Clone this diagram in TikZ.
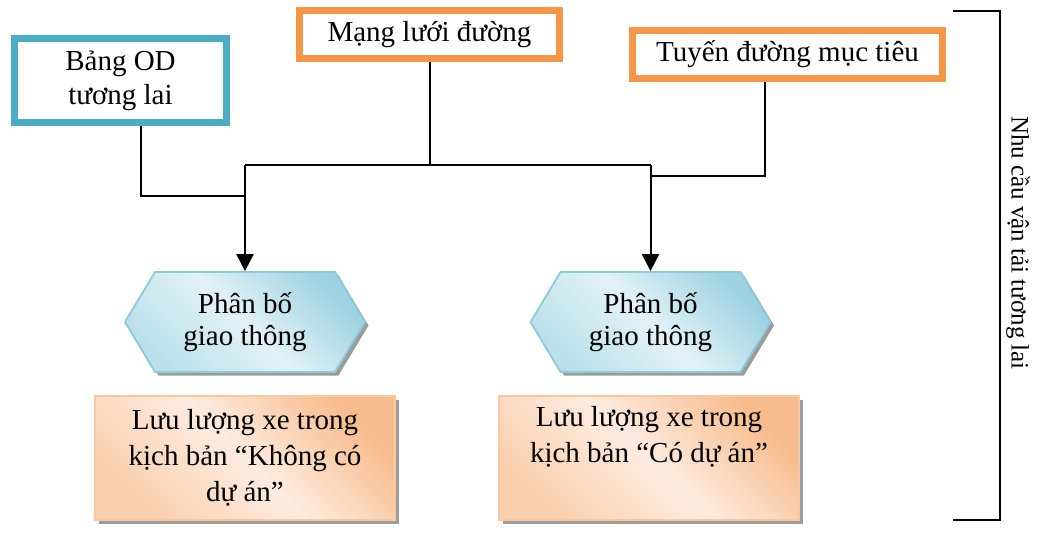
\documentclass[tikz,border=0pt]{standalone}
\usepackage{fontspec}
\setmainfont{Liberation Serif}
\usetikzlibrary{shapes.symbols,shadows,arrows.meta,calc}
\definecolor{odblue}{HTML}{4BACC6}
\definecolor{netorange}{HTML}{F79646}
\definecolor{hexlight}{HTML}{E2F2F7}
\definecolor{hexdark}{HTML}{9DD2E1}
\definecolor{hexedge}{HTML}{8DCADB}
\definecolor{flowlight}{HTML}{FDECE1}
\definecolor{flowdark}{HTML}{F8BC8C}
\definecolor{flowedge}{HTML}{F9C7A0}
\definecolor{shadowgray}{HTML}{9C9C9C}
\begin{document}
\begin{tikzpicture}[x=1pt,y=-1pt,
  txt/.style={font=\fontsize{29}{34}\selectfont, align=center, inner sep=0pt},
  inbox/.style={txt, draw=#1, line width=6.5pt, fill=white},
  softshadow/.style={drop shadow={shadow xshift=3.5pt, shadow yshift=-3.5pt, fill=shadowgray, opacity=1}},
  hexbox/.style={txt, font=\fontsize{29}{32}\selectfont, signal, signal to=west and east,
    signal pointer angle=118, draw=hexedge, line width=1.8pt,
    minimum width=240pt, minimum height=100pt,
    top color=hexdark, bottom color=hexdark!55!hexlight, middle color=hexlight, shading angle=-45, softshadow},
  flowbox/.style={txt, font=\fontsize{29}{36}\selectfont, draw=flowedge, line width=1.5pt,
    minimum width=300pt, minimum height=124pt,
    top color=flowdark, bottom color=flowdark!60!flowlight, middle color=flowlight, shading angle=-45, softshadow},
  conn/.style={line width=2pt},
  arr/.style={line width=2pt, -{Triangle[length=17pt,width=17pt]}}
]
\useasboundingbox (0,0) rectangle (1054,535);

% input boxes
\node[inbox=odblue, minimum width=212pt, minimum height=84pt] (od) at (120.5,80.5) {Bảng OD\\tương lai};
\node[inbox=netorange, minimum width=260pt, minimum height=48pt] (mang) at (429.5,34.5) {Mạng lưới đường};
\node[inbox=netorange, minimum width=310pt, minimum height=48pt] (tuyen) at (787.5,54.5) {Tuyến đường mục tiêu};

% traffic assignment steps
\node[hexbox] (hexa) at (245,322) {Phân bố\\giao thông};
\node[hexbox] (hexb) at (650.5,322) {Phân bố\\giao thông};

% resulting flows
\node[flowbox] (flowa) at (245,458) {Lưu lượng xe trong\\kịch bản “Không có\\dự án”};
\node[flowbox] (flowb) at (649,458) {Lưu lượng xe trong\\kịch bản “Có dự án”\\\strut};

% junction levels and connector offsets
\coordinate (busy) at (0,165);
\coordinate (ody) at (0,196);
\coordinate (tuyy) at (0,176);
\coordinate (odx) at (141,0);
\coordinate (tuyx) at (765,0);

% connectors
\draw[conn] (od.south -| odx) |- (hexa.north |- ody);
\draw[conn] (mang.south) -- (mang.south |- busy);
\draw[conn] (hexa.north |- busy) -- (hexb.north |- busy);
\draw[conn] (tuyen.south -| tuyx) |- (hexb.north |- tuyy);
\draw[arr] (hexa.north |- busy) -- (hexa.north);
\draw[arr] (hexb.north |- busy) -- (hexb.north);

% bracket with vertical caption
\coordinate (bt) at (953,11);
\coordinate (bb) at (953,520);
\draw[line width=1.6pt] (bt) -- ++(47,0) |- (bb);
\node[font=\fontsize{25}{30}\selectfont, rotate=-90, inner sep=0pt] (need) at (1018,243) {Nhu cầu vận tải tương lai};
\end{tikzpicture}
\end{document}
